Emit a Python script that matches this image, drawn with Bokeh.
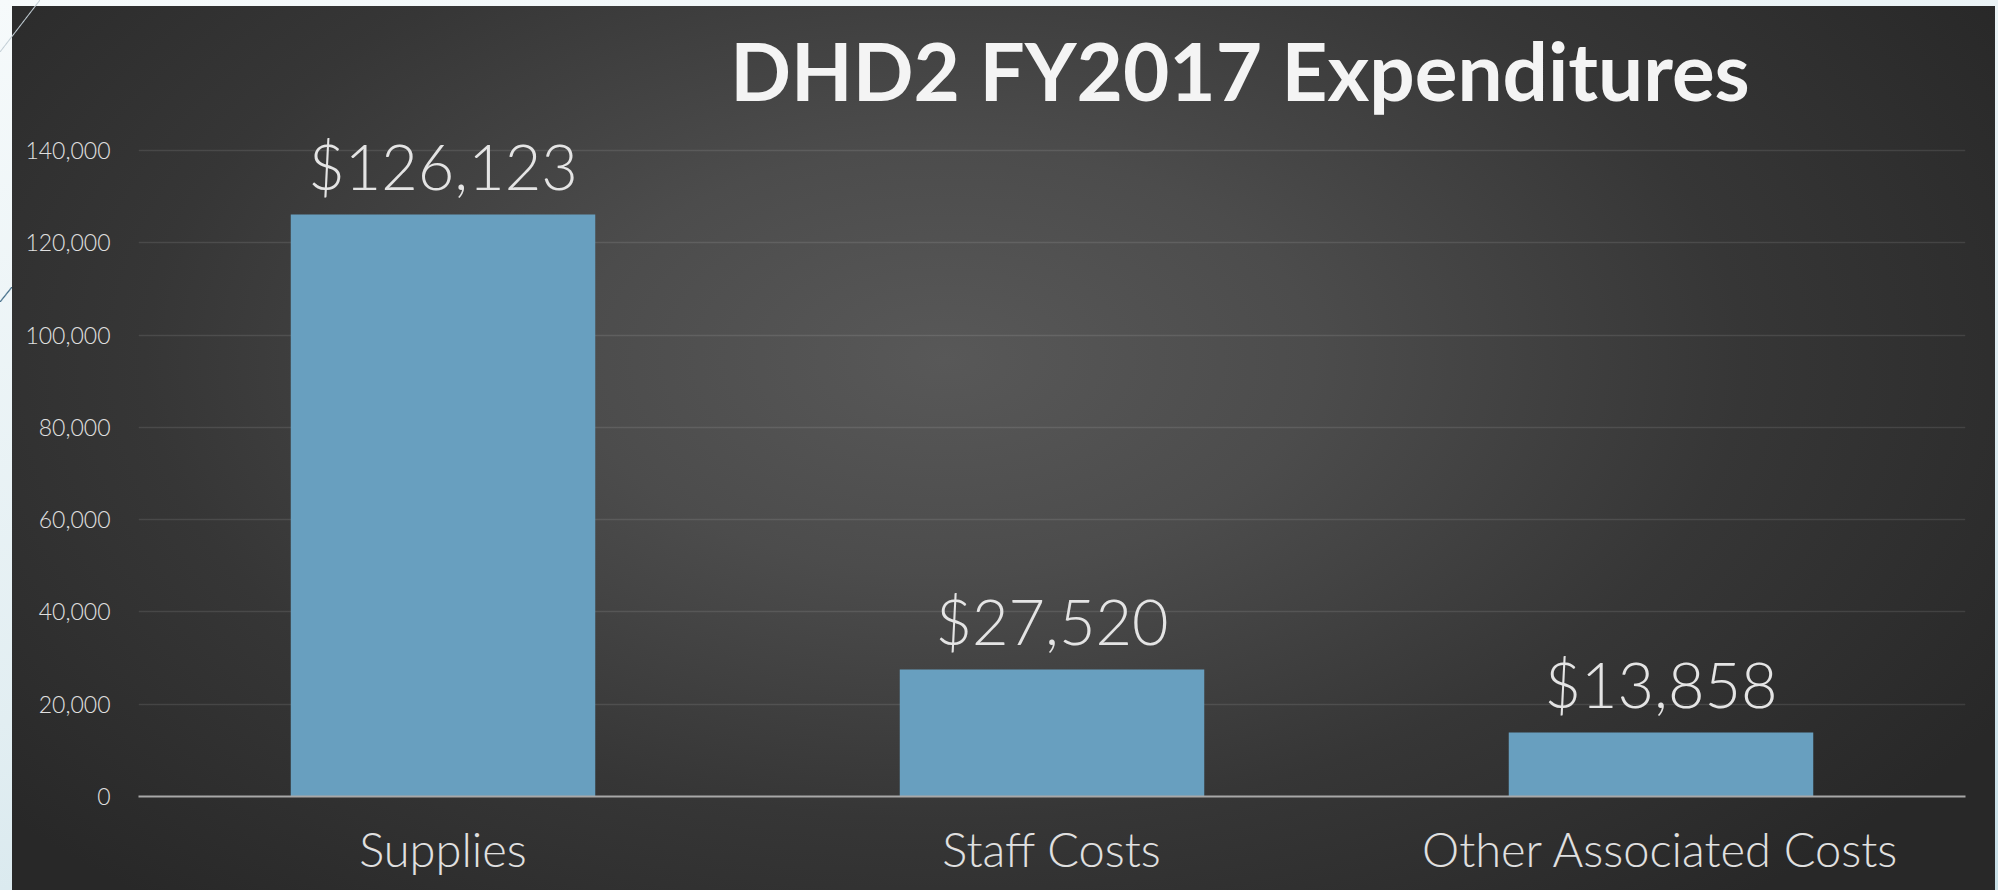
from bokeh.plotting import figure
from bokeh.models import FactorRange, Range1d, FixedTicker, NumeralTickFormatter, Label, ColumnDataSource
from bokeh.core.properties import value
from bokeh.embed import file_html
from bokeh.resources import INLINE

# ---- data ----
categories = ["Supplies", "Staff Costs", "Other Associated Costs"]
expenditures = [126123, 27520, 13858]
value_labels = ["$" + format(v, ",") for v in expenditures]
y_ticks = [0, 20000, 40000, 60000, 80000, 100000, 120000, 140000]
title_text = "DHD2 FY2017 Expenditures"

FONT_LIGHT = "'Lato Light', Lato"
FONT = "Lato"

bg_css = (
    "linear-gradient(to bottom right, transparent calc(50% - 1.2px), #3d6985 50%, transparent calc(50% + 1.2px)) "
    "0px 287px / 12px 15px no-repeat, "
    "linear-gradient(to bottom right, transparent calc(50% - 1px), #c3cfd6 50%, transparent calc(50% + 1px)) "
    "0px 0px / 40px 52px no-repeat, "
    "radial-gradient(ellipse 62% 80% at 47% 40%, #585858 0%, #4c4c4c 30%, #363636 65%, #282828 100%) "
    "12px 6px / 1983px 884px no-repeat, "
    "linear-gradient(168deg, #f6fafb 0%, #e2eef2 55%, #c9e0e8 100%)"
)

p = figure(
    width=1998, height=890,
    x_range=FactorRange(*categories, range_padding=0),
    y_range=Range1d(0, 171200),
    output_backend="svg", toolbar_location=None,
    min_border_left=138, min_border_right=33, min_border_top=6, min_border_bottom=94,
    styles={"background": bg_css},
)
p.background_fill_color = None
p.border_fill_color = None
p.outline_line_color = None

src = ColumnDataSource(dict(cat=categories, val=expenditures, lab=value_labels))

p.vbar(x="cat", top="val", width=0.5, source=src,
       fill_color="#689fbf", line_color=None)

p.text(x="cat", y="val", text="lab", source=src,
       y_offset=-49, text_align="center", text_baseline="alphabetic",
       text_font=value(FONT_LIGHT), text_font_size="63px", text_color="#e4e4e4")

# y axis
p.yaxis.ticker = FixedTicker(ticks=y_ticks)
p.yaxis.formatter = NumeralTickFormatter(format="0,0")
p.yaxis.axis_line_color = None
p.yaxis.major_tick_line_color = None
p.yaxis.minor_tick_line_color = None
p.yaxis.major_label_standoff = 22
p.yaxis.major_label_text_font = FONT_LIGHT
p.yaxis.major_label_text_font_size = "23px"
p.yaxis.major_label_text_color = "#e0e0e0"

# x axis
p.xaxis.axis_line_color = "#a8a8a8"
p.xaxis.axis_line_width = 2
p.xaxis.major_tick_line_color = None
p.xaxis.minor_tick_line_color = None
p.xaxis.major_label_standoff = 18
p.xaxis.major_label_text_font = FONT_LIGHT
p.xaxis.major_label_text_font_size = "47px"
p.xaxis.major_label_text_color = "#e0e0e0"

p.xgrid.grid_line_color = None
p.ygrid.grid_line_color = "#ffffff"
p.ygrid.grid_line_alpha = 0.1
p.ygrid.grid_line_width = 1.5

title = Label(x=1.5, y=157500, x_offset=188, text=title_text,
              text_align="center", text_baseline="alphabetic",
              text_font=FONT, text_font_style="bold", text_font_size="80px",
              text_color="#f4f4f4")
p.add_layout(title)

open("out.html", "w").write(file_html(p, INLINE))
